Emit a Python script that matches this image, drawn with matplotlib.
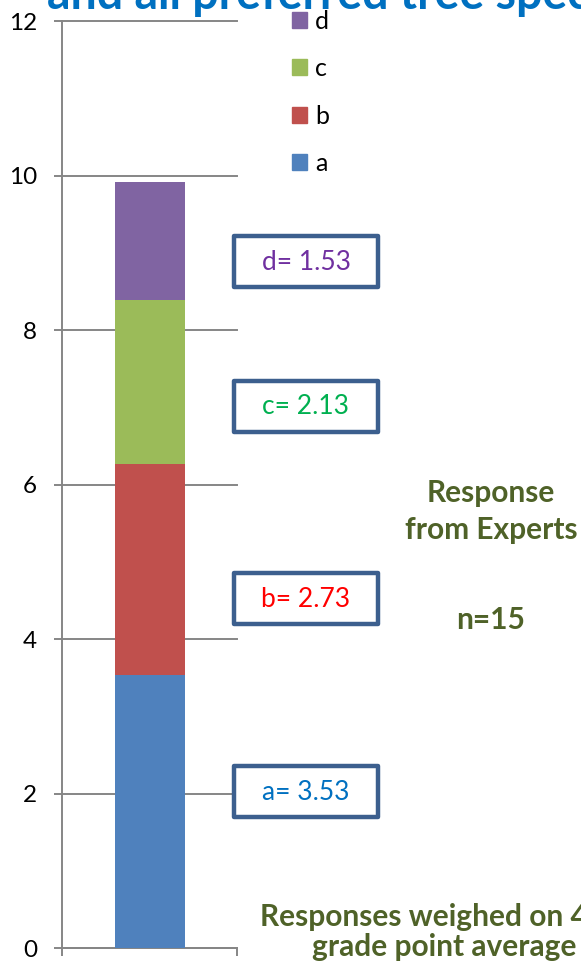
import matplotlib
matplotlib.use('Agg')
import matplotlib.pyplot as plt
from matplotlib.patches import Rectangle, Patch

plt.rcParams['font.family'] = ['Lato', 'DejaVu Sans']

# stacked components of the single expert-response bar
labels = ['a', 'b', 'c', 'd']
values = [3.53, 2.73, 2.13, 1.53]
colors = ['#4F81BD', '#C0504D', '#9BBB59', '#8064A2']
text_colors = ['#0070C0', '#FF0000', '#00B050', '#7030A0']
yticks = [0, 2, 4, 6, 8, 10, 12]

W, H = 581, 971
fig = plt.figure(figsize=(W / 100, H / 100), dpi=100)

def fx(px):
    return px / W

def fy(py):
    return 1 - py / H

grid_gray = '#868686'
ax = fig.add_axes([fx(62), fy(948), fx(237) - fx(62), fy(21) - fy(948)])
bottom = 0
for lab, v, c in zip(labels, values, colors):
    ax.bar(0, v, width=0.4, bottom=bottom, color=c, label=lab, zorder=3)
    bottom += v

ax.set_xlim(-0.5, 0.5)
ax.set_ylim(0, 12)
ax.set_yticks(yticks)
ax.set_xticks([-0.5, 0.5])
ax.set_xticklabels([])
ax.grid(axis='y', color=grid_gray, lw=1.4, zorder=0)
for g in ax.get_ygridlines():
    g.set_clip_on(False)
ax.tick_params(axis='both', direction='out', length=6, width=1.4, color=grid_gray,
               labelsize=17.5, pad=12)
for s in ['top', 'right']:
    ax.spines[s].set_visible(False)
for s in ['left', 'bottom']:
    ax.spines[s].set_color(grid_gray)
    ax.spines[s].set_linewidth(1.4)

# legend, top entry first
handles = [Patch(color=c, label=l) for l, c in zip(labels, colors)][::-1]
fig.legend(handles=handles, loc='upper left', bbox_to_anchor=(fx(279), fy(-3)),
           frameon=False, fontsize=18, handlelength=0.6, handleheight=0.6,
           handletextpad=0.35, labelspacing=0.98, borderpad=0)

# value boxes
box_tops = [766, 573, 381, 236]
for lab, v, tc, top in zip(labels, values, text_colors, box_tops):
    fig.patches.append(Rectangle((fx(234), fy(top + 51)), fx(144), 51 / H,
                                 transform=fig.transFigure, fill=True, fc='white',
                                 ec='#3C5F8E', lw=3.2, joinstyle='round', zorder=5))
    fig.text(fx(306), fy(top + 26), f'{lab}= {v:.2f}', color=tc, fontsize=19,
             ha='center', va='center', zorder=6)

olive = '#4F6228'
fs = 21.5
fig.text(fx(491), fy(493), 'Response', color=olive, fontsize=fs, fontweight='bold',
         ha='center', va='center')
fig.text(fx(491), fy(530), 'from Experts', color=olive, fontsize=fs, fontweight='bold',
         ha='center', va='center')
fig.text(fx(491), fy(620), 'n=15', color=olive, fontsize=fs, fontweight='bold',
         ha='center', va='center')
fig.text(fx(260), fy(917), 'Responses weighed on 4.0', color=olive, fontsize=fs,
         fontweight='bold', ha='left', va='center')
fig.text(fx(444), fy(947), 'grade point average', color=olive, fontsize=fs,
         fontweight='bold', ha='center', va='center')

fig.text(fx(47), fy(9), 'and all preferred tree species', color='#0070C0',
         fontsize=33.5, fontweight='bold', ha='left', va='baseline')

fig.savefig('out.png', dpi=100)
